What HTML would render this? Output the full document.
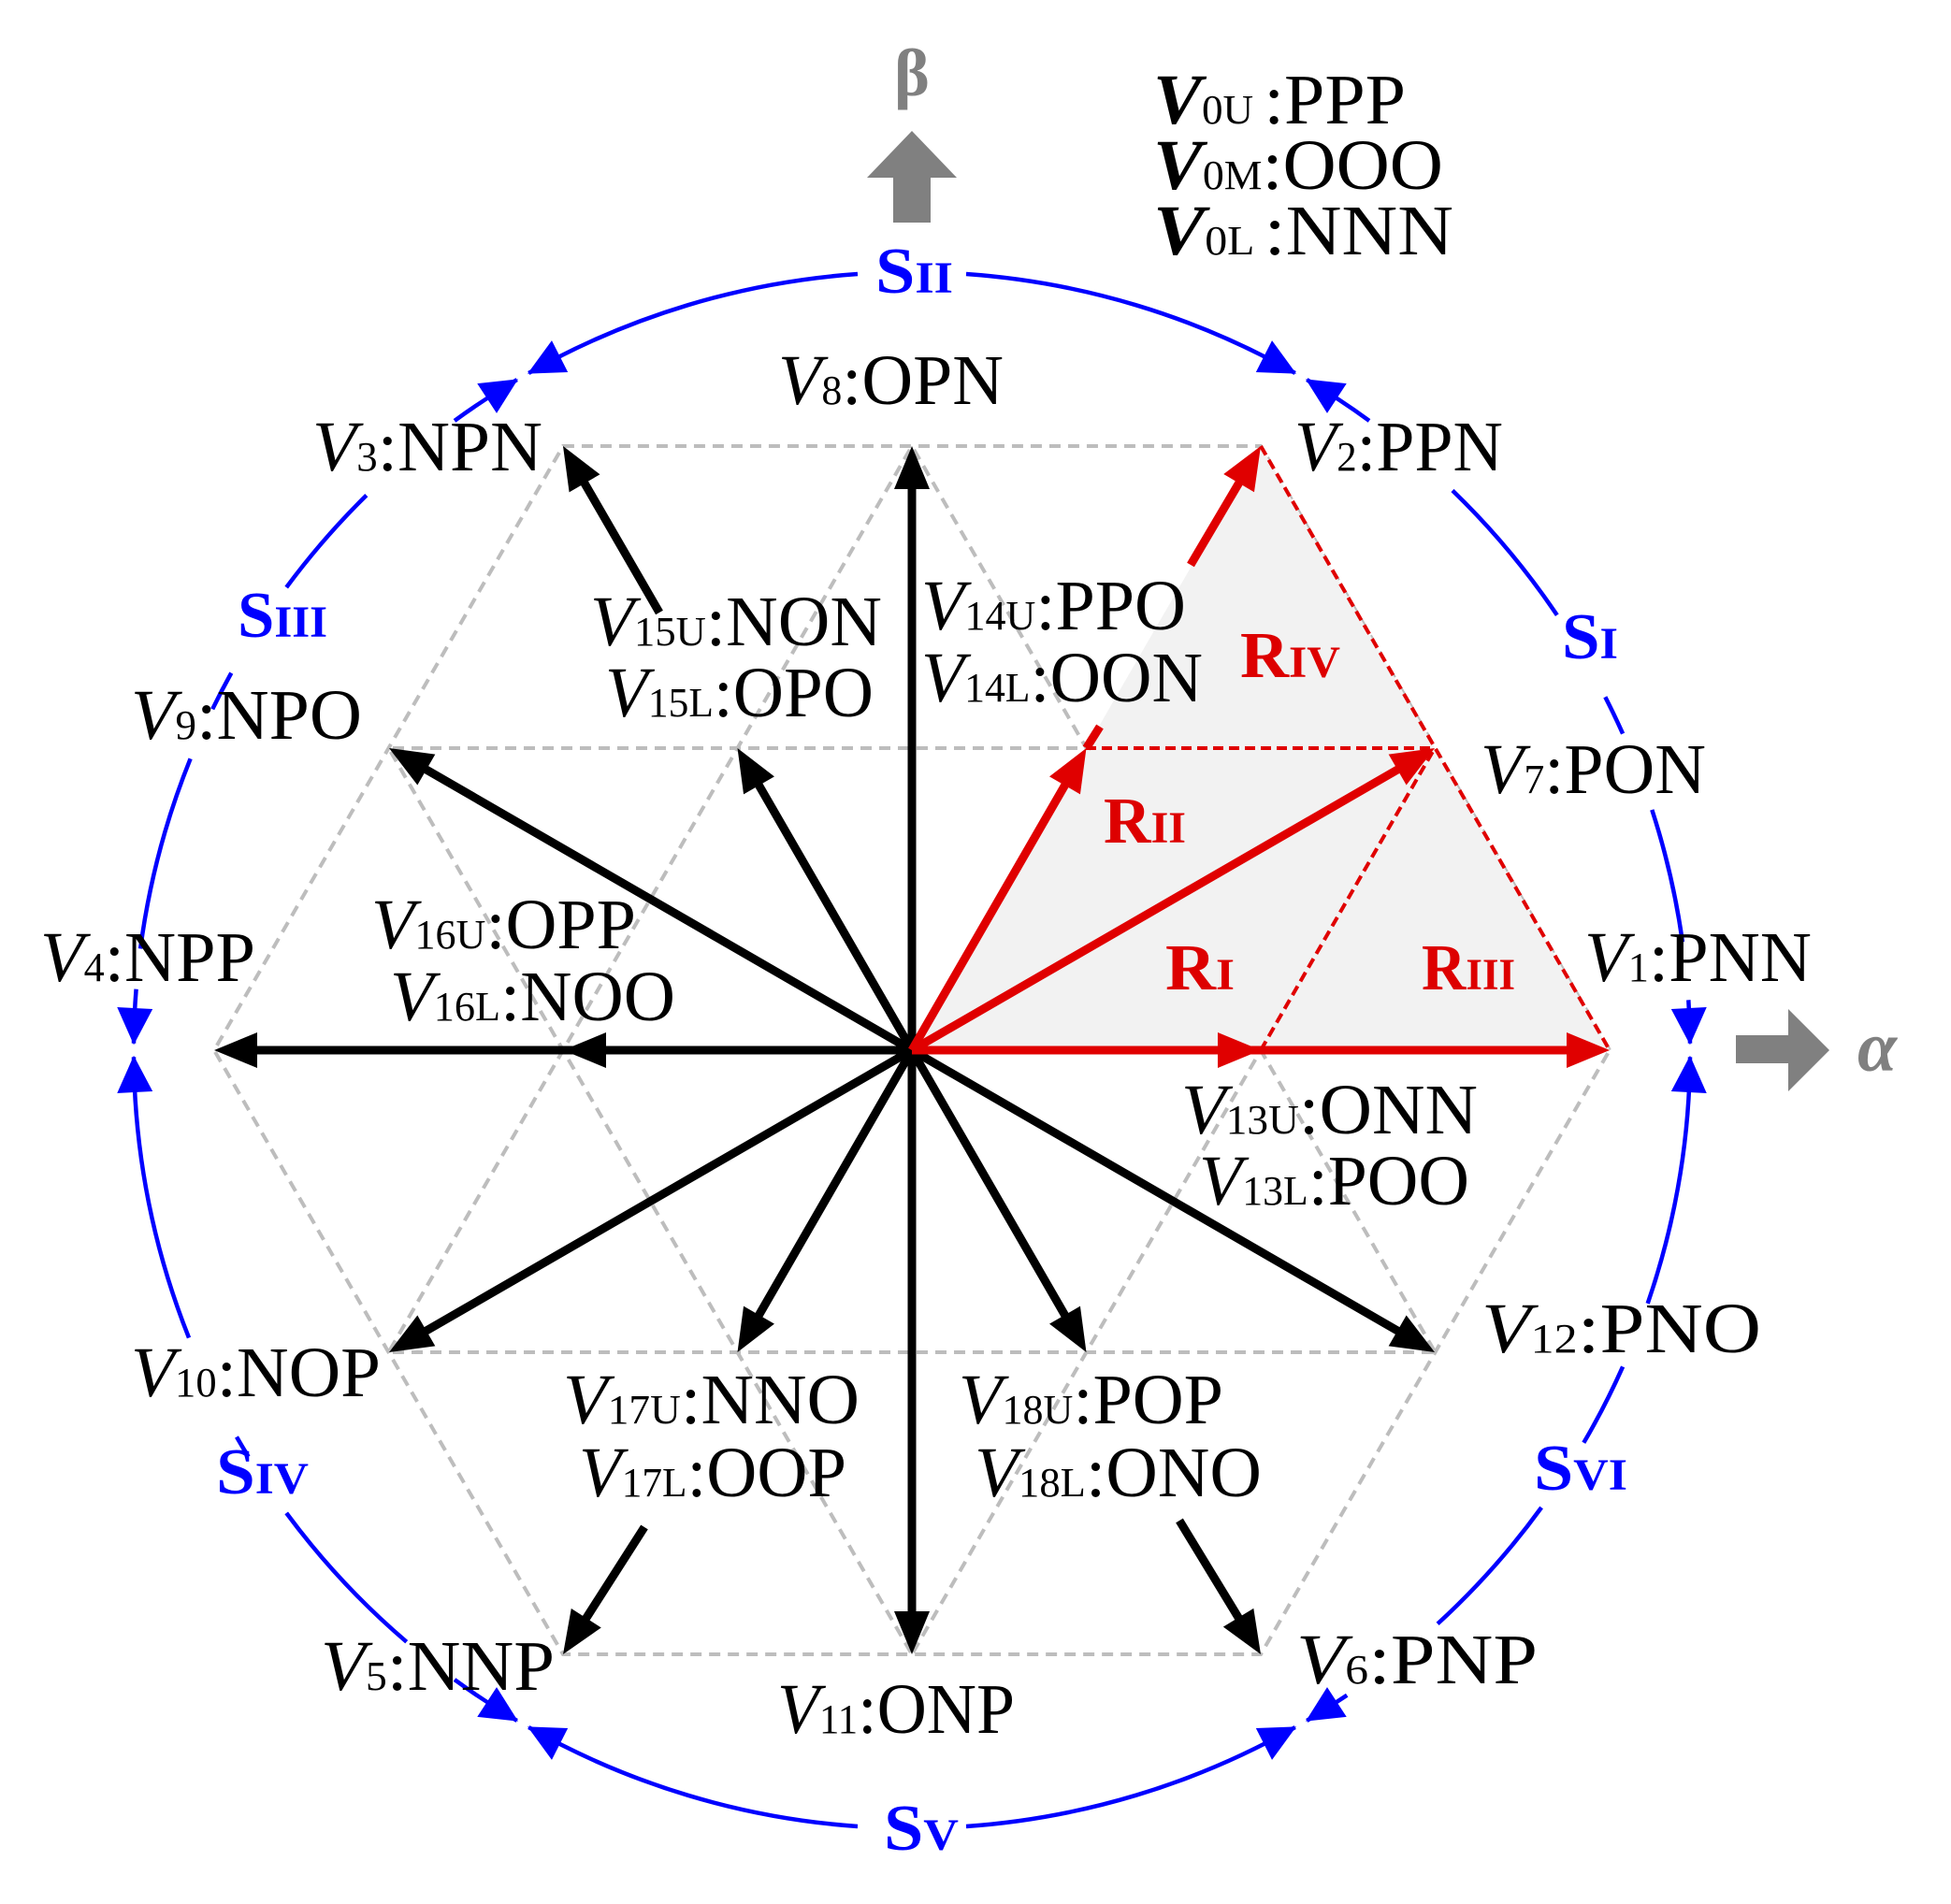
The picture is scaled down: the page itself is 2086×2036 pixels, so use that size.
<!DOCTYPE html>
<html><head><meta charset="utf-8"><style>
html,body{margin:0;padding:0;background:#fff;width:2086px;height:2036px;overflow:hidden;position:relative;}
svg{display:block;position:absolute;left:0;top:0;}
text{font-family:"Liberation Serif",serif;}
.l{font-size:76px;fill:#000;}
.v{font-style:italic;}
.s{font-size:44px;font-style:normal;}
.S{font-size:70px;font-weight:bold;fill:#0000ff;}
.R{font-size:70px;font-weight:bold;fill:#dd0000;}
.ss{font-size:48px;font-weight:bold;}
</style></head><body>
<svg id="sv" width="2086" height="2036" viewBox="0 0 2086 2036" xmlns="http://www.w3.org/2000/svg">
<defs><clipPath id="hx"><polygon points="1721,1123 1348,477 602,477 229,1123 602,1769 1348,1769"/></clipPath></defs>
<g id="grid" clip-path="url(#hx)" stroke="#bdbdbd" stroke-width="4" stroke-dasharray="12 8">
<g><line x1="0" y1="800" x2="2086" y2="800"/><line x1="0" y1="1446" x2="2086" y2="1446"/></g>
<g transform="rotate(60 975 1123)"><line x1="-500" y1="800" x2="2500" y2="800"/><line x1="-500" y1="1446" x2="2500" y2="1446"/></g>
<g transform="rotate(120 975 1123)"><line x1="-500" y1="800" x2="2500" y2="800"/><line x1="-500" y1="1446" x2="2500" y2="1446"/></g>
</g>
<polygon points="1721,1123 1348,477 602,477 229,1123 602,1769 1348,1769" fill="none" stroke="#bdbdbd" stroke-width="4" stroke-dasharray="12 8"/>
<polygon points="975,1123 1721,1123 1348,477" fill="#f2f2f2"/>
<g stroke="#e00000" stroke-width="4" stroke-dasharray="11 6" fill="none">
<line x1="1348" y1="477" x2="1721" y2="1123"/>
<line x1="1161" y1="800" x2="1534" y2="800"/>
<line x1="1348" y1="1123" x2="1534" y2="800"/>
</g>
<g id="vec"></g>
<g id="blue"></g>
<polygon points="955,238 995,238 995,190 1023,190 975,140 927,190 955,190" fill="#808080"/>
<polygon points="1856,1107 1912,1107 1912,1079 1956,1123 1912,1167 1912,1137 1856,1137" fill="#808080"/>
<text x="975" y="102" text-anchor="middle" style="font-size:72px;font-weight:bold;fill:#808080">β</text>
<text x="1986" y="1145" style="font-size:76px;font-weight:bold;font-style:italic;fill:#808080">α</text>

<text class="l" x="1233" y="132" textLength="270" lengthAdjust="spacingAndGlyphs"><tspan class="v" font-weight="bold">V</tspan><tspan class="s">0U </tspan>:PPP</text>
<text class="l" x="1233" y="202" textLength="310" lengthAdjust="spacingAndGlyphs"><tspan class="v" font-weight="bold">V</tspan><tspan class="s">0M</tspan>:OOO</text>
<text class="l" x="1233" y="272" textLength="321" lengthAdjust="spacingAndGlyphs"><tspan class="v" font-weight="bold">V</tspan><tspan class="s">0L </tspan>:NNN</text>

<text class="l" x="832" y="432" textLength="241" lengthAdjust="spacingAndGlyphs"><tspan class="v">V</tspan><tspan class="s">8</tspan>:OPN</text>
<text class="l" x="334" y="503" textLength="246" lengthAdjust="spacingAndGlyphs"><tspan class="v">V</tspan><tspan class="s">3</tspan>:NPN</text>
<text class="l" x="1384" y="503" textLength="223" lengthAdjust="spacingAndGlyphs"><tspan class="v">V</tspan><tspan class="s">2</tspan>:PPN</text>
<text class="l" x="631" y="690" textLength="312" lengthAdjust="spacingAndGlyphs"><tspan class="v">V</tspan><tspan class="s">15U</tspan>:NON</text>
<text class="l" x="647" y="766" textLength="287" lengthAdjust="spacingAndGlyphs"><tspan class="v">V</tspan><tspan class="s">15L</tspan>:OPO</text>
<text class="l" x="985" y="673" textLength="283" lengthAdjust="spacingAndGlyphs"><tspan class="v">V</tspan><tspan class="s">14U</tspan>:PPO</text>
<text class="l" x="985" y="750" textLength="301" lengthAdjust="spacingAndGlyphs"><tspan class="v">V</tspan><tspan class="s">14L</tspan>:OON</text>
<text class="l" x="140" y="790" textLength="247" lengthAdjust="spacingAndGlyphs"><tspan class="v">V</tspan><tspan class="s">9</tspan>:NPO</text>
<text class="l" x="1583" y="848" textLength="241" lengthAdjust="spacingAndGlyphs"><tspan class="v">V</tspan><tspan class="s">7</tspan>:PON</text>
<text class="l" x="397" y="1014" textLength="283" lengthAdjust="spacingAndGlyphs"><tspan class="v">V</tspan><tspan class="s">16U</tspan>:OPP</text>
<text class="l" x="417" y="1091" textLength="305" lengthAdjust="spacingAndGlyphs"><tspan class="v">V</tspan><tspan class="s">16L</tspan>:NOO</text>
<text class="l" x="43" y="1049" textLength="230" lengthAdjust="spacingAndGlyphs"><tspan class="v">V</tspan><tspan class="s">4</tspan>:NPP</text>
<text class="l" x="1694" y="1049" textLength="243" lengthAdjust="spacingAndGlyphs"><tspan class="v">V</tspan><tspan class="s">1</tspan>:PNN</text>
<text class="l" x="1263" y="1212" textLength="317" lengthAdjust="spacingAndGlyphs"><tspan class="v">V</tspan><tspan class="s">13U</tspan>:ONN</text>
<text class="l" x="1282" y="1288" textLength="289" lengthAdjust="spacingAndGlyphs"><tspan class="v">V</tspan><tspan class="s">13L</tspan>:POO</text>
<text class="l" x="1584" y="1446" textLength="299" lengthAdjust="spacingAndGlyphs"><tspan class="v">V</tspan><tspan class="s">12</tspan>:PNO</text>
<text class="l" x="140" y="1493" textLength="267" lengthAdjust="spacingAndGlyphs"><tspan class="v">V</tspan><tspan class="s">10</tspan>:NOP</text>
<text class="l" x="602" y="1522" textLength="317" lengthAdjust="spacingAndGlyphs"><tspan class="v">V</tspan><tspan class="s">17U</tspan>:NNO</text>
<text class="l" x="619" y="1600" textLength="286" lengthAdjust="spacingAndGlyphs"><tspan class="v">V</tspan><tspan class="s">17L</tspan>:OOP</text>
<text class="l" x="1025" y="1522" textLength="283" lengthAdjust="spacingAndGlyphs"><tspan class="v">V</tspan><tspan class="s">18U</tspan>:POP</text>
<text class="l" x="1042" y="1600" textLength="307" lengthAdjust="spacingAndGlyphs"><tspan class="v">V</tspan><tspan class="s">18L</tspan>:ONO</text>
<text class="l" x="343" y="1807" textLength="250" lengthAdjust="spacingAndGlyphs"><tspan class="v">V</tspan><tspan class="s">5</tspan>:NNP</text>
<text class="l" x="1386" y="1800" textLength="258" lengthAdjust="spacingAndGlyphs"><tspan class="v">V</tspan><tspan class="s">6</tspan>:PNP</text>
<text class="l" x="831" y="1853" textLength="254" lengthAdjust="spacingAndGlyphs"><tspan class="v">V</tspan><tspan class="s">11</tspan>:ONP</text>

<text class="S" x="936" y="313" textLength="83" lengthAdjust="spacingAndGlyphs">S<tspan class="ss">II</tspan></text>
<text class="S" x="254" y="681" textLength="96" lengthAdjust="spacingAndGlyphs">S<tspan class="ss">III</tspan></text>
<text class="S" x="1670" y="704" textLength="60" lengthAdjust="spacingAndGlyphs">S<tspan class="ss">I</tspan></text>
<text class="S" x="231" y="1597" textLength="99" lengthAdjust="spacingAndGlyphs">S<tspan class="ss">IV</tspan></text>
<text class="S" x="945" y="1978" textLength="80" lengthAdjust="spacingAndGlyphs">S<tspan class="ss">V</tspan></text>
<text class="S" x="1640" y="1593" textLength="100" lengthAdjust="spacingAndGlyphs">S<tspan class="ss">VI</tspan></text>
<text class="R" x="1326" y="724" textLength="107" lengthAdjust="spacingAndGlyphs">R<tspan class="ss">IV</tspan></text>
<text class="R" x="1180" y="901" textLength="88" lengthAdjust="spacingAndGlyphs">R<tspan class="ss">II</tspan></text>
<text class="R" x="1246" y="1058" textLength="74" lengthAdjust="spacingAndGlyphs">R<tspan class="ss">I</tspan></text>
<text class="R" x="1520" y="1058" textLength="100" lengthAdjust="spacingAndGlyphs">R<tspan class="ss">III</tspan></text>
</svg>
<script>
(function(){
var NS="http://www.w3.org/2000/svg";
var cx=975,cy=1123;
function el(p,tag,a){var e=document.createElementNS(NS,tag);for(var k in a)e.setAttribute(k,a[k]);p.appendChild(e);return e;}
var vec=document.getElementById('vec');
function arrow(x1,y1,x2,y2,col,head){
  var dx=x2-x1,dy=y2-y1,L=Math.sqrt(dx*dx+dy*dy),ux=dx/L,uy=dy/L;
  var hl=46,hw=19;
  if(head){
    el(vec,'line',{x1:x1,y1:y1,x2:x2-ux*hl*0.7,y2:y2-uy*hl*0.7,stroke:col,'stroke-width':9});
    var bx=x2-ux*hl,by=y2-uy*hl;
    el(vec,'polygon',{points:x2+','+y2+' '+(bx-uy*hw)+','+(by+ux*hw)+' '+(bx+uy*hw)+','+(by-ux*hw),fill:col});
  } else el(vec,'line',{x1:x1,y1:y1,x2:x2,y2:y2,stroke:col,'stroke-width':9});
}
var K='#000',Rd='#e00000';
arrow(cx,cy,975,477,K,1);
arrow(cx,cy,788.5,800,K,1);
arrow(705,655,602,477,K,1);
arrow(cx,cy,416,800,K,1);
arrow(cx,cy,229,1123,K,1);
arrow(cx,cy,602,1123,K,1);
arrow(cx,cy,416,1446,K,1);
arrow(cx,cy,788.5,1446,K,1);
arrow(689,1633,602,1769,K,1);
arrow(cx,cy,975,1769,K,1);
arrow(cx,cy,1161.5,1446,K,1);
arrow(1261,1626,1348,1769,K,1);
arrow(cx,cy,1534,1446,K,1);
arrow(cx,cy,1721,1123,Rd,1);
arrow(cx,cy,1348,1123,Rd,1);
arrow(cx,cy,1161.5,800,Rd,1);
arrow(1161.5,800,1176,777,Rd,0);
arrow(1273,604,1348,477,Rd,1);
arrow(cx,cy,1534,800,Rd,1);
var bl=document.getElementById('blue');var r=832;
function P(a){a=a*Math.PI/180;return [cx+r*Math.cos(a),cy-r*Math.sin(a)];}
var segs=[[0.5,3.7],[8,18],[24,27],[34,46],[54,59.5],[60.5,86],[94,119.5],[120.5,126],[134.5,143.5],[151,154],[158,172.5],[175.5,179.5],[180.5,201.7],[209.8,211.5],[216.5,229.5],[234,239.5],[240.5,266],[274,299.5],[300.5,304],[312.5,324],[329.7,336],[341,359.5]];
var d='';
segs.forEach(function(s){var a=P(s[0]),b=P(s[1]);d+='M'+a[0].toFixed(1)+','+a[1].toFixed(1)+'A'+r+','+r+' 0 0 0 '+b[0].toFixed(1)+','+b[1].toFixed(1);});
el(bl,'path',{d:d,fill:'none',stroke:'#0000ff','stroke-width':4.5});
function bar(tipA,baseA){
  var t=P(tipA),b=P(baseA),a=baseA*Math.PI/180,nx=Math.cos(a),ny=-Math.sin(a),w=19;
  el(bl,'polygon',{points:t[0]+','+t[1]+' '+(b[0]+nx*w)+','+(b[1]+ny*w)+' '+(b[0]-nx*w)+','+(b[1]-ny*w),fill:'#0000ff'});
}
for(var k=0;k<6;k++){var b=k*60;bar(b+0.4,b+3.1);bar(b-0.4+(k==0?360:0),b-3.1+(k==0?360:0));}
})();
</script>
</body></html>
